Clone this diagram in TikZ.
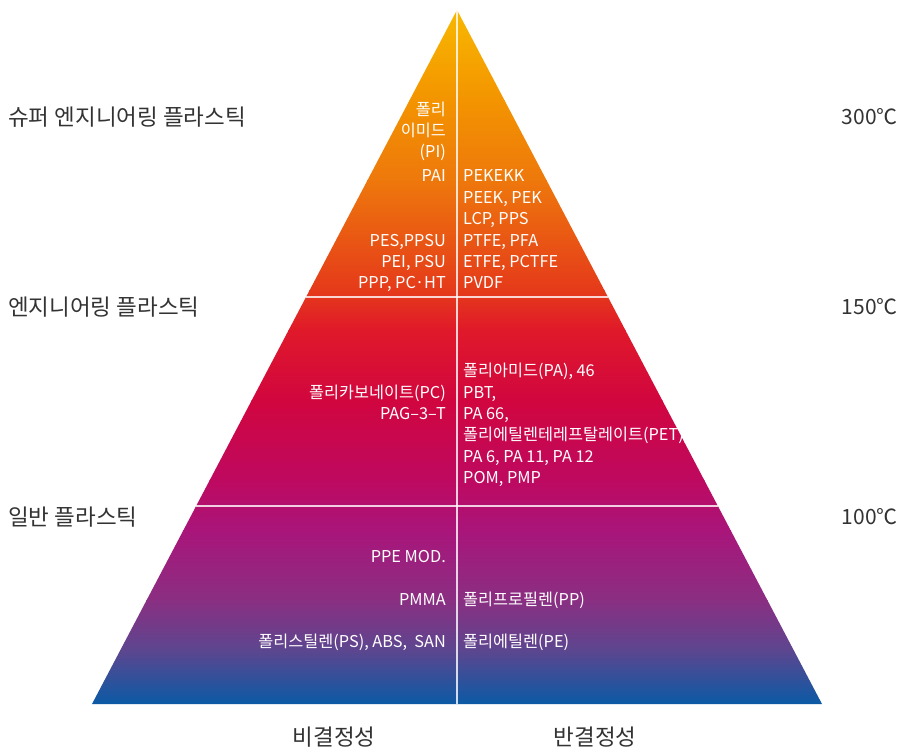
\documentclass[tikz,border=0pt]{standalone}
\usepackage{fontspec}
\setmainfont{Noto Sans CJK KR}
\usepackage{tikz}
\usetikzlibrary{positioning,calc}
\usepackage{xcolor}

\definecolor{sideText}{HTML}{333333}
\definecolor{pyrA}{HTML}{F8B800}
\definecolor{pyrB}{HTML}{F39400}
\definecolor{pyrC}{HTML}{EE780C}
\definecolor{pyrD}{HTML}{E53A1A}
\definecolor{pyrE}{HTML}{E0192A}
\definecolor{pyrF}{HTML}{D1063F}
\definecolor{pyrG}{HTML}{BE0960}
\definecolor{pyrH}{HTML}{A9157A}
\definecolor{pyrI}{HTML}{8A2F82}
\definecolor{pyrJ}{HTML}{5C468F}
\definecolor{pyrK}{HTML}{0A5AA5}

\begin{document}
\begin{tikzpicture}[x=1pt,y=-1pt,
  sidelbl/.style={font=\fontsize{22.5}{26}\selectfont,text=sideText,inner sep=0pt},
  templbl/.style={font=\fontsize{21}{26}\selectfont,text=sideText,inner sep=0pt},
  inlbl/.style={font=\fontsize{16.3}{21}\selectfont,text=white,inner sep=0pt},
  lcol/.style={inlbl,anchor=base east},
  rcol/.style={inlbl,anchor=base west},
  divider/.style={white,opacity=0.8,line width=1.3pt}]
\useasboundingbox (0,0) rectangle (908,748);
\coordinate (apex) at (457,10);
\coordinate (bl) at (92,704);
\coordinate (br) at (822,704);
\coordinate (bm) at ($(bl)!0.5!(br)$);
\coordinate (sl) at ($(apex)!287/694!(bl)$);
\coordinate (sr) at ($(apex)!287/694!(br)$);
\coordinate (gl) at ($(apex)!496/694!(bl)$);
\coordinate (gr) at ($(apex)!496/694!(br)$);

% pyramid fill
\begin{scope}
\clip (apex) -- (br) -- (bl) -- cycle;
\shade[top color=pyrA,bottom color=pyrB] (0,9) rectangle (908,100.5);
\shade[top color=pyrB,bottom color=pyrC] (0,100) rectangle (908,180.5);
\shade[top color=pyrC,bottom color=pyrD] (0,180) rectangle (908,290.5);
\shade[top color=pyrD,bottom color=pyrE] (0,290) rectangle (908,330.5);
\shade[top color=pyrE,bottom color=pyrF] (0,330) rectangle (908,400.5);
\shade[top color=pyrF,bottom color=pyrG] (0,400) rectangle (908,480.5);
\shade[top color=pyrG,bottom color=pyrH] (0,480) rectangle (908,530.5);
\shade[top color=pyrH,bottom color=pyrI] (0,530) rectangle (908,600.5);
\shade[top color=pyrI,bottom color=pyrJ] (0,600) rectangle (908,650.5);
\shade[top color=pyrJ,bottom color=pyrK] (0,650) rectangle (908,705);
\end{scope}

% dividers
\draw[divider] (apex) -- (bm);
\draw[divider] (sl) -- (sr);
\draw[divider] (gl) -- (gr);

% super engineering
\node[lcol] (pi1) at (446,115.5) {폴리};
\node[lcol] (pi2) at (446,136.5) {이미드};
\node[lcol] (pi3) at (446,157.5) {(PI)};
\node[lcol] (pai) at (446,181.5) {PAI};
\node[lcol] (pes) at (446,246.5) {PES,PPSU};
\node[lcol] (pei) at (446,267.5) {PEI, PSU};
\node[lcol] (ppp) at (446,288.5) {PPP, PC·HT};
\node[rcol] (pekekk) at (463,181.5) {PEKEKK};
\node[rcol] (peek) at (463,203.5) {PEEK, PEK};
\node[rcol] (lcp) at (463,224.5) {LCP, PPS};
\node[rcol] (ptfe) at (463,246.5) {PTFE, PFA};
\node[rcol] (etfe) at (463,267.5) {ETFE, PCTFE};
\node[rcol] (pvdf) at (463,288.5) {PVDF};

% engineering
\node[lcol] (pc) at (446,398.5) {폴리카보네이트(PC)};
\node[lcol] (pag) at (446,419.5) {PAG–3–T};
\node[rcol] (pa) at (463,376.5) {폴리아미드(PA), 46};
\node[rcol] (pbt) at (463,398.5) {PBT,};
\node[rcol] (pa66) at (463,419.5) {PA 66,};
\node[rcol] (pet) at (463,440.5) {폴리에틸렌테레프탈레이트(PET),};
\node[rcol] (pa6) at (463,462.5) {PA 6, PA 11, PA 12};
\node[rcol] (pom) at (463,483.5) {POM, PMP};

% general
\node[lcol] (ppe) at (446,562.5) {PPE MOD.};
\node[lcol] (pmma) at (446,605.5) {PMMA};
\node[lcol] (ps) at (446,647.5) {폴리스틸렌(PS), ABS,\ \ SAN};
\node[rcol] (pp) at (463,605.5) {폴리프로필렌(PP)};
\node[rcol] (pe) at (463,647.5) {폴리에틸렌(PE)};

% side labels
\node[sidelbl,anchor=base west] (superlbl) at (8,125) {슈퍼 엔지니어링 플라스틱};
\node[sidelbl,anchor=base west] (englbl) at (8,315) {엔지니어링 플라스틱};
\node[sidelbl,anchor=base west] (genlbl) at (8,525) {일반 플라스틱};
\node[templbl,anchor=base east] (t300) at (898,124.5) {300℃};
\node[templbl,anchor=base east] (t150) at (898,314.5) {150℃};
\node[templbl,anchor=base east] (t100) at (898,524.5) {100℃};
\node[sidelbl,anchor=base] (amorph) at (334,745) {비결정성};
\node[sidelbl,anchor=base] (semicr) at (595,745) {반결정성};
\end{tikzpicture}
\end{document}
